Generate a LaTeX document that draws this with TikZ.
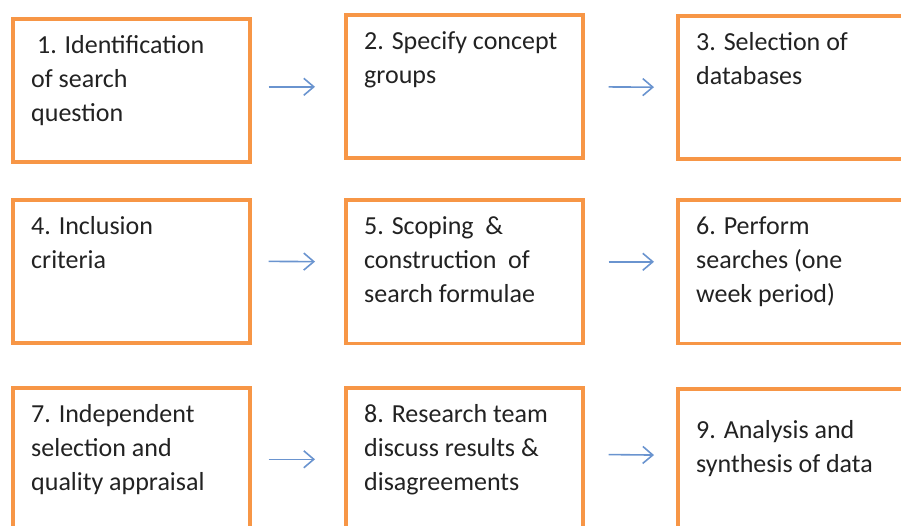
\documentclass[tikz,border=0pt]{standalone}
\usepackage{fontspec}
\setmainfont{Carlito}
\usepackage{xcolor}
\usepackage{tikz}
\usetikzlibrary{arrows.meta}
\definecolor{StepOrange}{HTML}{F79646}
\definecolor{StepInk}{HTML}{222222}
\definecolor{StepArrow}{HTML}{6A94CF}

\begin{document}
\begin{tikzpicture}[x=1pt,y=1pt,
    stepbox/.style={draw=StepOrange,line width=3.6pt,minimum width=237pt,minimum height=143pt,inner sep=0pt,anchor=north west},
    steptext/.style={text=StepInk,align=left,inner sep=0pt,anchor=north west,font=\fontsize{26}{34}\selectfont},
    flow/.style={StepArrow,line width=1.6pt,-{Straight Barb[length=10pt,width=17pt]}}]
    \path[use as bounding box,clip] (0,0) rectangle (901,525);
    \foreach \n/\x/\y/\dy/\t in {
      1/11/507.5/18/{\ 1. Identification\\of search\\question},
      2/344/511.5/18/{2. Specify concept\\groups},
      3/676/511/18/{3. Selection of\\databases},
      4/11/327/18/{4. Inclusion\\criteria},
      5/344/326.5/18/{5. Scoping~ \&\\construction~ of\\search formulae},
      6/676/326.5/18/{6. Perform\\searches (one\\week period)},
      7/11/139/18/{7. Independent\\selection and\\quality appraisal},
      8/344/139/18/{8. Research team\\discuss results \&\\disagreements},
      9/676/138/33/{9. Analysis and\\synthesis of data}} {
      \node[stepbox] (b\n) at (\x,\y) {};
      \node[steptext] (t\n) at ([shift={(20,-\dy)}]b\n.north west) {\t};
    }
    % arrows between the steps of each row
    \draw[flow,shorten <=17pt,shorten >=29pt] (b1.east |- b2.west) -- (b2.west);
    \draw[flow,shorten <=24pt,shorten >=22pt] (b2.east) -- (b3.west);
    \draw[flow,shorten <=17pt,shorten >=29pt] ([yshift=10]b4.east) -- ([yshift=10]b5.west);
    \draw[flow,shorten <=24pt,shorten >=22pt] ([yshift=10]b5.east) -- ([yshift=10]b6.west);
    \draw[flow,shorten <=17pt,shorten >=29pt] (b7.east) -- (b8.west);
    \draw[flow,shorten <=24pt,shorten >=22pt] ([yshift=5]b8.east) -- ([yshift=5]b9.west);
  \end{tikzpicture}
\end{document}
